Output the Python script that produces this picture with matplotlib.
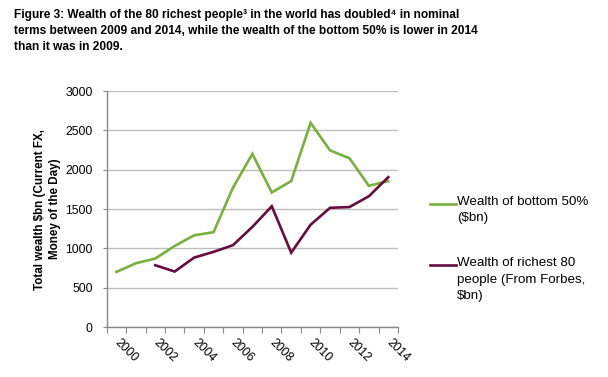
import matplotlib
matplotlib.use("Agg")
import matplotlib.pyplot as plt
from matplotlib.lines import Line2D
import numpy as np

years = list(range(2000, 2015))
bottom50 = [700, 810, 870, 1030, 1165, 1205, 1770, 2200, 1710, 1855, 2595, 2245, 2145, 1795, 1855]
richest80 = [None, None, 785, 705, 882, 955, 1040, 1272, 1535, 945, 1300, 1515, 1525, 1662, 1905]
tick_years = [2000, 2002, 2004, 2006, 2008, 2010, 2012, 2014]
yticks = [0, 500, 1000, 1500, 2000, 2500, 3000]
legend_labels = ["Wealth of bottom 50%\n($bn)", "Wealth of richest 80\npeople (From Forbes,\n$bn)"]
title = ("Figure 3: Wealth of the 80 richest people\u00b3 in the world has doubled\u2074 in nominal\n"
         "terms between 2009 and 2014, while the wealth of the bottom 50% is lower in 2014\n"
         "than it was in 2009.")
ylabel = "Total wealth \\$bn (Current FX,\nMoney of the Day)"

GREEN = "#77B03F"
MAROON = "#650D3D"
FAM = ["Liberation Sans", "DejaVu Sans"]
plt.rcParams['font.family'] = FAM

W, H = 608, 377
fig = plt.figure(figsize=(W / 100, H / 100), dpi=100)
left, right, top, bottom = 106.7, 398, 91, 327
ax = fig.add_axes([left / W, 1 - bottom / H, (right - left) / W, (bottom - top) / H])

x = np.arange(len(years))
ax.plot(x, bottom50, color=GREEN, lw=1.9, solid_joinstyle='miter')
r = np.array([np.nan if v is None else v for v in richest80], dtype=float)
ax.plot(x, r, color=MAROON, lw=1.9, solid_joinstyle='miter')

ax.set_xlim(-0.5, len(years) - 0.5)
ax.set_ylim(0, 3000)
ax.set_yticks(yticks)
ax.set_yticklabels([str(v) for v in yticks], fontsize=8.8)
ax.tick_params(axis='y', length=3, color='#888888', pad=7)
ax.yaxis.grid(True, color='#BEBEBE', lw=1.0)
ax.set_axisbelow(True)

ax.set_xticks(np.arange(-0.5, len(years), 1.0))
ax.set_xticklabels([])
ax.tick_params(axis='x', which='major', length=4, color='#888888', direction='out')
ax.set_xticks([years.index(y) for y in tick_years], minor=True)
ax.set_xticklabels([str(y) for y in tick_years], minor=True, fontsize=8.8,
                   rotation=-45, ha='left', va='center', rotation_mode='anchor')
ax.tick_params(axis='x', which='minor', length=0, pad=10)

for s in ['top', 'right']:
    ax.spines[s].set_visible(False)
for s in ['left', 'bottom']:
    ax.spines[s].set_color('#888888')
    ax.spines[s].set_linewidth(1.0)

ax.set_ylabel(ylabel, fontsize=8.4, fontweight='bold', linespacing=1.3)
ax.yaxis.set_label_coords(-(left - 61) / (right - left), 0.5)

fig.text(14 / W, 1 - 9 / H, title, fontsize=8.6, fontweight='bold', va='top', ha='left',
         linespacing=1.47, family=FAM)

# legend
entries = [(GREEN, legend_labels[0], 196), (MAROON, legend_labels[1], 257)]
for col, lab, ytop in entries:
    fig.text(457 / W, 1 - ytop / H, lab, fontsize=9.6, va='top', ha='left', linespacing=1.5)
    yl = 1 - (ytop + 7.5) / H
    fig.add_artist(Line2D([430 / W, 456 / W], [yl, yl], color=col, lw=1.9,
                          transform=fig.transFigure))

fig.savefig("out.png", dpi=100)
